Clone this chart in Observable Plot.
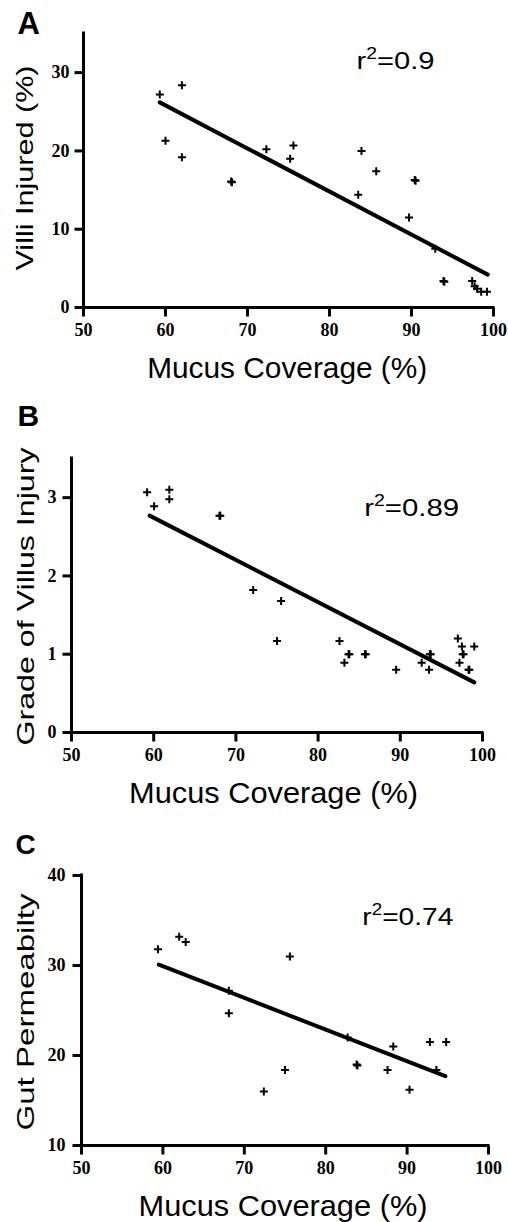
<!DOCTYPE html>
<html><head><meta charset="utf-8">
<script src="https://cdn.jsdelivr.net/npm/d3@7"></script>
<script src="https://cdn.jsdelivr.net/npm/@observablehq/plot@0.6"></script>
<style>
html,body{margin:0;padding:0;background:#fff}
body{width:508px;height:1222px;position:relative;overflow:hidden}
.panel{position:absolute;left:0}
</style></head><body>
<div id="pa" class="panel" style="top:0px"></div>
<div id="pb" class="panel" style="top:395px"></div>
<div id="pc" class="panel" style="top:815px"></div>
<script>
// ---------- shared ----------
const xTicks = [50, 60, 70, 80, 90, 100];
const xTitle = "Mucus Coverage (%)";

// ---------- Panel A ----------
const coverageA = [59.3, 62.0, 60.0, 62.0, 68.0, 68.1, 72.3, 75.2, 75.6, 83.5, 83.9, 85.7, 90.4, 90.5, 89.7, 92.9, 93.9, 94.0, 97.4, 97.7, 98.0, 98.5, 99.2];
const villiInjured = [27.2, 28.4, 21.3, 19.2, 16.1, 16.0, 20.2, 19.0, 20.7, 14.4, 20.0, 17.4, 16.3, 16.2, 11.5, 7.5, 3.4, 3.3, 3.4, 2.7, 2.4, 2.0, 2.0];
const fitCoverageA = [59.3, 99.3];
const fitInjuredA = [26.2, 4.2];
const yTicksA = [0, 10, 20, 30];

// ---------- Panel B ----------
const coverageB = [59.2, 60.05, 61.9, 61.9, 68.0, 68.1, 72.1, 75.5, 75.0, 82.6, 83.7, 83.8, 83.2, 85.7, 85.8, 89.5, 92.6, 93.6, 93.7, 93.5, 97.0, 97.5, 97.6, 97.7, 97.2, 98.3, 98.4, 99.0];
const villusGrade = [3.07, 2.89, 3.10, 2.98, 2.77, 2.77, 1.82, 1.68, 1.17, 1.17, 1.0, 1.0, 0.89, 1.0, 1.0, 0.80, 0.89, 1.0, 1.0, 0.80, 1.20, 1.10, 1.0, 1.0, 0.89, 0.80, 0.80, 1.10];
const fitCoverageB = [59.5, 99.0];
const fitGradeB = [2.77, 0.64];
const yTicksB = [0, 1, 2, 3];

// ---------- Panel C ----------
const coverageC = [59.4, 62.0, 62.8, 75.6, 68.1, 68.1, 72.4, 75.0, 82.7, 83.8, 83.9, 87.6, 88.3, 90.3, 92.8, 94.8, 93.6];
const gutPermeability = [31.8, 33.2, 32.6, 31.0, 27.2, 24.7, 16.0, 18.4, 22.0, 19.0, 18.9, 18.4, 21.0, 16.2, 21.5, 21.5, 18.4];
const fitCoverageC = [59.5, 94.7];
const fitPermC = [30.1, 17.7];
const yTicksC = [10, 20, 30, 40];

const SANS = "Liberation Sans, Arial, Helvetica, sans-serif";
const SERIF = "Liberation Serif, Times New Roman, serif";
const TICK = 9;
const tickDown = {draw(ctx) { ctx.moveTo(0, 0); ctx.lineTo(0, TICK); }};
const tickLeft = {draw(ctx) { ctx.moveTo(0, 0); ctx.lineTo(-TICK, 0); }};

function panel(cfg) {
  const pts = cfg.xs.map((x, i) => ({x, y: cfg.ys[i]}));
  const fit = cfg.fx.map((x, i) => ({x, y: cfg.fy[i]}));
  const y0 = cfg.yDomain[0];
  const tickFont = {fontFamily: SERIF, fontSize: 18, fontWeight: "bold"};
  const svg = Plot.plot({
    width: 508,
    height: cfg.height,
    marginTop: cfg.mt, marginBottom: cfg.mb, marginLeft: cfg.ml, marginRight: cfg.mr,
    style: {background: "transparent", overflow: "visible", color: "black", fontFamily: SANS},
    x: {domain: [50, 100], axis: null},
    y: {domain: cfg.yDomain, axis: null},
    marks: [
      // axis lines
      Plot.ruleY([y0], {strokeWidth: 3, strokeLinecap: "square"}),
      Plot.ruleX([50], {strokeWidth: 3, strokeLinecap: "square"}),
      // ticks
      Plot.dot(xTicks, {x: d => d, y: () => y0, symbol: tickDown, r: 1, fill: "none", stroke: "black", strokeWidth: 3}),
      Plot.dot(cfg.yTicks, {x: () => 50, y: d => d, symbol: tickLeft, r: 1, fill: "none", stroke: "black", strokeWidth: 3}),
      // tick labels
      Plot.text(xTicks, {x: d => d, y: () => y0, text: d => String(d), dy: 16, lineAnchor: "top", textAnchor: "middle", ...tickFont}),
      Plot.text(cfg.yTicks, {x: () => 50, y: d => d, text: d => String(d), dx: cfg.ytDx, lineAnchor: "middle", textAnchor: "end", ...tickFont}),
      // fit and points
      Plot.line(fit, {x: "x", y: "y", stroke: "black", strokeWidth: 4}),
      Plot.dot(pts, {x: "x", y: "y", symbol: "plus", r: 2.7, stroke: "black", strokeWidth: 2}),
      // texts
      Plot.text([cfg.letter], {text: d => d, frameAnchor: "top-left", dx: cfg.letterDx, dy: cfg.letterDy,
        textAnchor: "start", lineAnchor: "bottom", fontFamily: SANS, fontWeight: "bold", fontSize: cfg.letterSize}),
      Plot.text([cfg.yLabel], {text: d => d, frameAnchor: "left", rotate: -90, dx: cfg.ylDx, dy: cfg.ylDy,
        textAnchor: "middle", lineAnchor: "bottom", fontFamily: SANS, fontSize: 24}),
      Plot.text([xTitle], {text: d => d, frameAnchor: "bottom", dx: cfg.xlDx, dy: 70,
        textAnchor: "middle", lineAnchor: "bottom", fontFamily: SANS, fontSize: 30}),
      Plot.text([cfg.r2], {text: d => d, x: () => cfg.r2x, y: () => cfg.r2y,
        textAnchor: "start", lineAnchor: "middle", fontFamily: SANS, fontSize: 24})
    ]
  });
  const s = d3.select(svg);
  const byText = str => s.selectAll("text").filter(function() { return this.textContent === str; });
  byText(cfg.yLabel).attr("textLength", cfg.ylLen).attr("lengthAdjust", "spacingAndGlyphs");
  byText(xTitle).attr("textLength", cfg.xlLen).attr("lengthAdjust", "spacingAndGlyphs");
  byText(cfg.r2).each(function() {
    const t = d3.select(this);
    const rest = cfg.r2.slice(2);
    t.text(null);
    t.append("tspan").text("r");
    t.append("tspan").attr("font-size", 16).attr("dy", -10).text("2");
    t.append("tspan").attr("dy", 10).text(rest);
    t.attr("textLength", cfg.r2Len).attr("lengthAdjust", "spacingAndGlyphs");
  });
  document.getElementById(cfg.id).appendChild(svg);
}

panel({id: "pa", height: 395, mt: 33, mb: 88, ml: 83, mr: 15,
  xs: coverageA, ys: villiInjured, fx: fitCoverageA, fy: fitInjuredA,
  yDomain: [0, 35], yTicks: yTicksA, ytDx: -14, letter: "A", letterDx: -66, letterDy: 0, letterSize: 31,
  yLabel: "Villi Injured (%)", ylDx: -51, ylDy: -2.5, ylLen: 205, xlDx: -1.3, xlLen: 280,
  r2: "r\u00b2=0.9", r2x: 83.3, r2y: 31.5, r2Len: 78});

panel({id: "pb", height: 420, mt: 63, mb: 83, ml: 71, mr: 26,
  xs: coverageB, ys: villusGrade, fx: fitCoverageB, fy: fitGradeB,
  yDomain: [0, 3.5], yTicks: yTicksB, ytDx: -15, letter: "B", letterDx: -54, letterDy: -33, letterSize: 30,
  yLabel: "Grade of Villus Injury", ylDx: -38, ylDy: 1, ylLen: 298, xlDx: -3.5, xlLen: 289,
  r2: "r\u00b2=0.89", r2x: 85.6, r2y: 2.86, r2Len: 95});

panel({id: "pc", height: 407, mt: 60, mb: 77, ml: 81, mr: 20,
  xs: coverageC, ys: gutPermeability, fx: fitCoverageC, fy: fitPermC,
  yDomain: [10, 40], yTicks: yTicksC, ytDx: -16, letter: "C", letterDx: -66, letterDy: -22, letterSize: 28,
  yLabel: "Gut Permeabilty", ylDx: -48, ylDy: 1.5, ylLen: 237, xlDx: -2, xlLen: 289,
  r2: "r\u00b2=0.74", r2x: 84.5, r2y: 35.3, r2Len: 91});
</script>
</body></html>
